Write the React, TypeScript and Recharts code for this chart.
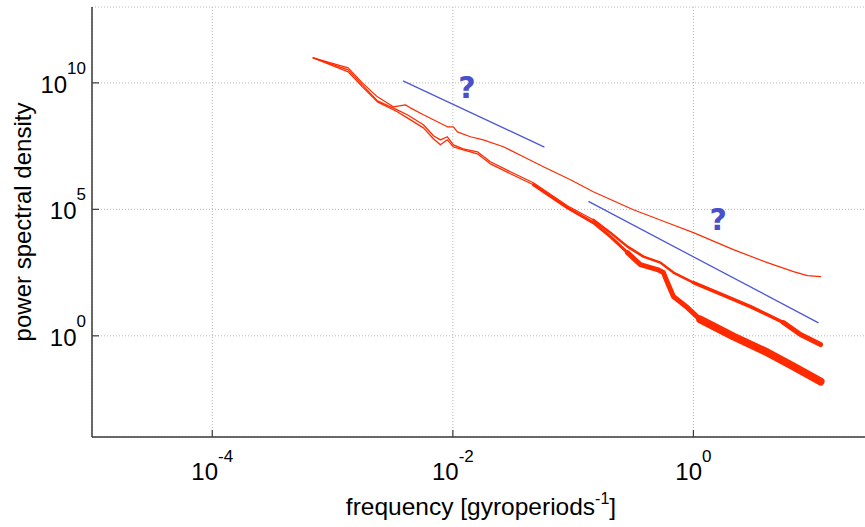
import { LineChart, Line, XAxis, YAxis, CartesianGrid, ReferenceDot } from "recharts";

// axis ticks (decades)
const xTicks = [1e-4, 1e-2, 1];
const yTicks = [1, 1e5, 1e10];

// upper (smooth) spectrum
const freqA = [6.9e-4, 1.35e-3, 1.77e-3, 2.36e-3, 3.2e-3, 4.03e-3, 4.43e-3, 5.69e-3, 6.89e-3, 9.0e-3, 1.01e-2, 1.09e-2, 1.4e-2, 1.79e-2, 2.63e-2, 3.86e-2, 5.66e-2, 9.5e-2, 0.147, 0.317, 0.608, 1.0, 2.15, 4.12, 6.79, 8.87, 11.4];
const psdA = [9.7e10, 3.9e10, 1.0e10, 2.8e9, 1.13e9, 1.35e9, 1.03e9, 5.5e8, 3.5e8, 1.83e8, 1.83e8, 1.16e8, 7.4e7, 5.6e7, 3.0e7, 1.2e7, 4.8e6, 1.48e6, 5.0e5, 9.7e4, 2.97e4, 1.2e4, 2.55e3, 783, 346, 240, 219];

// middle spectrum
const freqB = [6.9e-4, 1.35e-3, 1.77e-3, 2.36e-3, 3.45e-3, 4.18e-3, 5.69e-3, 6.89e-3, 7.87e-3, 9.0e-3, 1.01e-2, 1.22e-2, 1.6e-2, 2.05e-2, 3.01e-2, 4.67e-2, 8.96e-2, 0.147, 0.204, 0.283, 0.384, 0.532, 0.682, 1.0, 1.58, 2.98, 5.6, 7.76, 11.4];
const psdB = [9.7e10, 3.26e10, 8.3e9, 1.95e9, 8.6e8, 5.5e8, 2.2e8, 8.1e7, 5.6e7, 7.4e7, 3.57e7, 2.48e7, 1.89e7, 7.6e6, 3.07e6, 1.13e6, 1.39e5, 3.9e4, 1.2e4, 3.36e3, 1.35e3, 783, 316, 127, 51, 14.3, 3.35, 1.13, 0.45];

// lower (noisy) spectrum
const freqC = [6.9e-4, 1.35e-3, 1.77e-3, 2.36e-3, 3.45e-3, 4.18e-3, 5.69e-3, 6.89e-3, 7.87e-3, 9.0e-3, 1.01e-2, 1.22e-2, 1.6e-2, 2.05e-2, 3.01e-2, 4.67e-2, 8.96e-2, 0.147, 0.204, 0.283, 0.362, 0.502, 0.563, 0.608, 0.682, 0.891, 1.14, 2.15, 4.12, 6.79, 11.4];
const psdC = [9.7e10, 2.72e10, 6.95e9, 1.78e9, 7.2e8, 4.15e8, 1.67e8, 6.2e7, 3.57e7, 5.6e7, 2.97e7, 2.27e7, 1.57e7, 6.3e6, 2.56e6, 9.4e5, 1.16e5, 2.97e4, 8.3e3, 1.94e3, 653, 415, 316, 127, 35.6, 13.1, 4.4, 0.94, 0.22, 0.061, 0.0157];

// blue guide lines
const guide1F = [3.85e-3, 5.77e-2];
const guide1P = [1.2e10, 2.9e7];
const guide2F = [0.134, 10.96];
const guide2P = [2.06e5, 3.26];

// question marks
const markF = [1.31e-2, 1.61];
const markP = [6.6e9, 3.9e4];

const RED = "#ff2a00";
const BLUE = "#4d58d8";
const QBLUE = "#4a4fcc";
const AXIS = "#3a3a3a";
const FONT = '"Liberation Sans", Arial, Helvetica, sans-serif';

const rows = (f: number[], p: number[]) => f.map((v, i) => ({ f: v, p: p[i] }));
const from = (f: number[], p: number[], min: number) => rows(f, p).filter((r) => r.f >= min);
const exp = (v: number) => Math.round(Math.log10(v));

const BottomTick = ({ x, y, payload }: any) => (
  <g>
    <line x1={x} x2={x} y1={y} y2={y - 7} stroke={AXIS} strokeWidth={1.2} />
    <text x={x} y={y + 43} textAnchor="middle" fontFamily={FONT} fontSize={24} fill="#000">
      10<tspan dy={-18} fontSize={17}>{exp(payload.value)}</tspan>
    </text>
  </g>
);

const TopTick = ({ x, y }: any) => (
  <line x1={x} x2={x} y1={y} y2={y + 7} stroke={AXIS} strokeWidth={1.2} />
);

const LeftTick = ({ x, y, payload }: any) => (
  <g>
    <line x1={x} x2={x + 7} y1={y} y2={y} stroke={AXIS} strokeWidth={1.2} />
    <text x={x - 6} y={y + 10} textAnchor="end" fontFamily={FONT} fontSize={24} fill="#000">
      10<tspan dy={-19} fontSize={17}>{exp(payload.value)}</tspan>
    </text>
  </g>
);

const red = (data: any[], w: number) => (
  <Line data={data} dataKey="p" stroke={RED} strokeWidth={w} strokeLinecap="round" strokeLinejoin="round" dot={false} isAnimationActive={false} />
);

export default function App() {
  return (
    <div style={{ position: "absolute", left: 0, top: 0, width: 865, height: 527, overflow: "hidden", background: "#fff" }}>
      <LineChart width={934} height={527} margin={{ top: 7, right: 0, bottom: 0, left: 0 }}>
        <CartesianGrid stroke="#b8b8b8" strokeDasharray="1 2" />
        <XAxis
          dataKey="f"
          type="number"
          scale="log"
          domain={[1e-5, 1e2]}
          allowDataOverflow
          ticks={xTicks}
          height={90}
          tickSize={0}
          tickMargin={0}
          tickLine={false}
          tick={<BottomTick />}
          axisLine={{ stroke: AXIS, strokeWidth: 1.5 }}
        />
        <XAxis
          xAxisId="top"
          orientation="top"
          type="number"
          scale="log"
          domain={[1e-5, 1e2]}
          allowDataOverflow
          ticks={xTicks}
          height={0}
          tickSize={0}
          tickMargin={0}
          tickLine={false}
          tick={<TopTick />}
          axisLine={{ stroke: AXIS, strokeWidth: 1.5 }}
        />
        <YAxis
          type="number"
          scale="log"
          domain={[1e-4, 1e13]}
          allowDataOverflow
          ticks={yTicks}
          width={92}
          tickSize={0}
          tickMargin={0}
          tickLine={false}
          tick={<LeftTick />}
          axisLine={{ stroke: AXIS, strokeWidth: 1.5 }}
        />

        {red(rows(freqA, psdA), 1.2)}
        {red(rows(freqB, psdB), 1.3)}
        {red(from(freqB, psdB, 0.147), 2.5)}
        {red(from(freqB, psdB, 1.0), 3.5)}
        {red(from(freqB, psdB, 5.6), 5)}
        {red(rows(freqC, psdC), 1.3)}
        {red(from(freqC, psdC, 0.0467), 3)}
        {red(from(freqC, psdC, 0.283), 5)}
        {red(from(freqC, psdC, 1.14), 8)}

        <Line data={rows(guide1F, guide1P)} dataKey="p" stroke={BLUE} strokeWidth={1.3} dot={false} isAnimationActive={false} />
        <Line data={rows(guide2F, guide2P)} dataKey="p" stroke={BLUE} strokeWidth={1.3} dot={false} isAnimationActive={false} />

        {markF.map((f, i) => (
          <ReferenceDot
            key={i}
            x={f}
            y={markP[i]}
            r={0}
            fill="none"
            stroke="none"
            label={{ value: "?", position: "center", fill: QBLUE, fontSize: 30, fontWeight: 700, fontFamily: "DejaVu Sans" }}
          />
        ))}

        <text x={22} y={222} transform="rotate(-90 22 222)" textAnchor="middle" dominantBaseline="central" fontFamily={FONT} fontSize={24} fill="#000">
          power spectral density
        </text>
        <text x={481} y={515} textAnchor="middle" fontFamily={FONT} fontSize={24.5} fill="#000">
          frequency [gyroperiods<tspan dy={-11} fontSize={16}>-1</tspan>
          <tspan dy={11}>]</tspan>
        </text>
      </LineChart>
    </div>
  );
}
